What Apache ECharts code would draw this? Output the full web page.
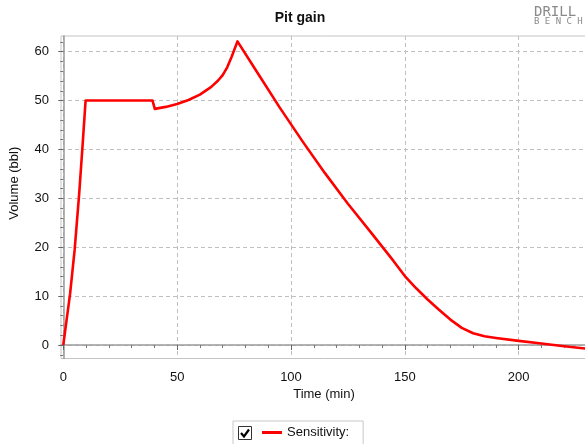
<!DOCTYPE html>
<html>
<head>
<meta charset="utf-8">
<script src="https://cdn.jsdelivr.net/npm/echarts@6/dist/echarts.min.js"></script>
<style>
html,body{margin:0;padding:0;background:#fff;}
#chart{width:585px;height:444px;}
</style>
</head>
<body>
<div id="chart"></div>
<script>
// ---- data ----
const timeMin = [0, 1, 3, 5, 7, 8.5, 9.8, 39.2, 40.2, 45, 50, 55, 60, 65, 68, 70, 72, 74, 76.5,
  85, 95, 105, 115, 125, 135, 145, 150, 155, 160, 165, 170, 175, 180, 185, 190, 200, 210, 220, 230];
const volumeBbl = [0, 3.5, 10.5, 19.5, 31, 41, 50, 50, 48.3, 48.7, 49.3, 50.1, 51.2, 52.8, 54.1, 55.2, 56.8, 59, 62.1,
  55.9, 48.6, 41.7, 35.1, 28.9, 23.1, 17.2, 14.1, 11.6, 9.3, 7.2, 5.2, 3.5, 2.4, 1.8, 1.45, 0.85, 0.3, -0.25, -0.75];
const xTicks = [0, 50, 100, 150, 200];
const xMinorTicks = [10, 20, 30, 40, 60, 70, 80, 90, 110, 120, 130, 140, 160, 170, 180, 190, 210, 220];
const yTicks = [0, 10, 20, 30, 40, 50, 60];
const yMinorTicks = [-2, 2, 4, 6, 8, 12, 14, 16, 18, 22, 24, 26, 28, 32, 34, 36, 38, 42, 44, 46, 48, 52, 54, 56, 58, 62];
const seriesName = 'Sensitivity:';

const points = timeMin.map((t, i) => [t, volumeBbl[i]]);

const FONT = '"Liberation Sans", Arial, sans-serif';
const xMin = -1, xMax = 230, yMin = -2.76, yMax = 63.2;

const chart = echarts.init(document.getElementById('chart'), null, {renderer: 'canvas'});
chart.setOption({
  animation: false,
  backgroundColor: '#ffffff',
  title: {
    text: 'Pit gain', left: 300, top: 11, textAlign: 'center', padding: 0,
    textStyle: {fontFamily: FONT, fontSize: 14, fontWeight: 'bold', color: '#111'}
  },
  legend: {
    data: [seriesName], left: 233, top: 421,
    padding: [5, 14, 12, 29],
    borderColor: '#c8c8c8', borderWidth: 1,
    icon: 'rect', itemWidth: 20, itemHeight: 3,
    selectedMode: false,
    textStyle: {fontFamily: FONT, fontSize: 13, color: '#111'}
  },
  grid: {
    left: 61, top: 36, right: -2, bottom: 85.5,
    show: true, borderColor: '#c4c4c4', borderWidth: 1,
    containLabel: false, outerBoundsMode: 'none'
  },
  xAxis: [{
    type: 'value', min: xMin, max: xMax, position: 'bottom',
    name: 'Time (min)', nameLocation: 'middle', nameGap: 27,
    nameTextStyle: {fontFamily: FONT, fontSize: 13, color: '#111'},
    axisLine: {show: true, lineStyle: {color: '#9a9a9a', width: 1.5}},
    axisTick: {show: true, length: 5, customValues: xTicks, lineStyle: {color: '#666'}},
    axisLabel: {customValues: xTicks, margin: 12, fontFamily: FONT, fontSize: 13, color: '#111'},
    splitLine: {show: true, lineStyle: {color: '#c0c0c0', type: [4, 3], width: 1}},
    minorTick: {show: false}
  }, {
    type: 'value', min: xMin, max: xMax, position: 'bottom',
    axisLine: {show: false},
    axisTick: {show: true, length: 3, customValues: xMinorTicks, lineStyle: {color: '#777'}},
    axisLabel: {show: false},
    splitLine: {show: false}
  }],
  yAxis: [{
    type: 'value', min: yMin, max: yMax, position: 'left',
    name: 'Volume (bbl)', nameLocation: 'middle', nameGap: 40, nameRotate: 90,
    nameTextStyle: {fontFamily: FONT, fontSize: 13, color: '#111', padding: [0, 0, 0, 28]},
    axisLine: {show: true, lineStyle: {color: '#9a9a9a', width: 1.5}},
    axisTick: {show: true, length: 5, customValues: yTicks, lineStyle: {color: '#666'}},
    axisLabel: {customValues: yTicks, margin: 12, fontFamily: FONT, fontSize: 13, color: '#111'},
    splitLine: {show: true, lineStyle: {color: '#c0c0c0', type: [4, 3], width: 1}}
  }, {
    type: 'value', min: yMin, max: yMax, position: 'left',
    axisLine: {show: false},
    axisTick: {show: true, length: 3, customValues: yMinorTicks, lineStyle: {color: '#777'}},
    axisLabel: {show: false},
    splitLine: {show: false}
  }],
  series: [{
    name: seriesName, type: 'line', xAxisIndex: 0, yAxisIndex: 0,
    data: points, showSymbol: false, symbol: 'none', clip: true,
    color: '#ff0000',
    lineStyle: {color: '#ff0000', width: 2.6, join: 'round'}
  }],
  graphic: [
    {type: 'rect', shape: {x: 238.5, y: 426.5, width: 13, height: 13},
     style: {fill: '#fff', stroke: '#333', lineWidth: 1}},
    {type: 'polyline', shape: {points: [[241, 433], [244, 436.5], [249, 429.5]]},
     style: {fill: null, stroke: '#000', lineWidth: 2.2}},
    {type: 'text', x: 534, y: 12.5,
     style: {text: 'DRILL', fontFamily: '"DejaVu Sans Mono", monospace', fontSize: 14, fill: '#8a8a8a', verticalAlign: 'middle'}},
    {type: 'text', x: 534, y: 21.5,
     style: {text: 'B E N C H', fontFamily: '"DejaVu Sans Mono", monospace', fontSize: 9, fill: '#8a8a8a', verticalAlign: 'middle'}}
  ]
});
</script>
</body>
</html>
